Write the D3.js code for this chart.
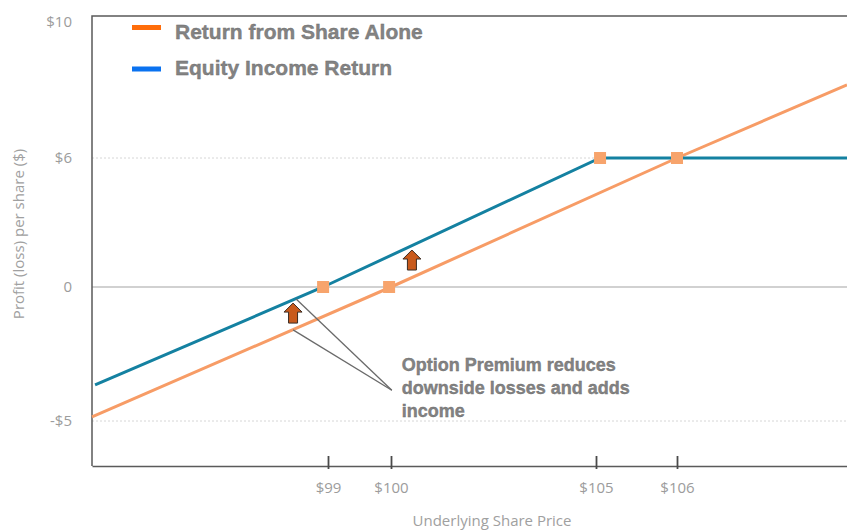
<!DOCTYPE html>
<html lang="en">
<head>
<meta charset="utf-8">
<title>Equity Income Return vs Share Alone</title>
<script src="https://d3js.org/d3.v7.min.js"></script>
<style>
  body { margin: 0; background: #fff; }
  .tick text { font-family: "Open Sans", sans-serif; font-size: 15px; fill: #9c9c9c; }
  .bold-text { font-family: "Liberation Sans", Arial, sans-serif; font-weight: bold; fill: #838383; stroke: #6c6c6c; stroke-width: 0.35; }
</style>
</head>
<body>
<script>
// ---- data ----
var priceTicks = [99, 100, 105, 106];
var profitTicks = [-5, 0, 6, 10];
var shareAlone = [[95.15, -4.85], [100, 0], [106, 6], [108.15, 8.15]];
var equityIncome = [[95.2, -3.65], [98.92, 0], [105.05, 6], [108.15, 6]];
var markers = [[98.92, 0], [99.97, 0], [105.05, 6], [106, 6]];
var arrows = [[98.43, -0.6], [100.51, 1.72]];
var pointers = [[98.48, -0.45], [98.43, -1.6]];
var noteAnchor = [100.02, -3.85];
var noteLines = ["Option Premium reduces", "downside losses and adds", "income"];
var legendItems = ["Return from Share Alone", "Equity Income Return"];
var legendColors = ["#ff6d0a", "#0a72f0"];

var width = 847, height = 530;
var plotLeft = 92, plotRight = 847, plotTop = 16, plotBottom = 466;

var svg = d3.select("body").append("svg")
  .attr("width", width)
  .attr("height", height);

// the illustration is not drawn to a linear scale, so use piecewise scales
var x = d3.scaleLinear()
  .domain([95.15, 99, 100, 105, 106, 108.15])
  .range([92, 328, 391, 596, 677, 847]);
var y = d3.scaleLinear()
  .domain([-5, 0, 6, 10])
  .range([421, 287, 158, 22]);

// dotted grid lines
svg.selectAll(".grid")
  .data([-5, 6])
  .enter().append("line")
  .attr("x1", plotLeft).attr("x2", plotRight)
  .attr("y1", d => y(d)).attr("y2", d => y(d))
  .attr("stroke", "#d6d6d6")
  .attr("stroke-width", 1)
  .attr("stroke-dasharray", "2,2");

// zero line
svg.append("line")
  .attr("x1", plotLeft).attr("x2", plotRight)
  .attr("y1", y(0)).attr("y2", y(0))
  .attr("stroke", "#c2c2c2")
  .attr("stroke-width", 1.5);

// frame (top and left)
svg.append("path")
  .attr("d", "M" + plotRight + "," + plotTop + "H" + plotLeft + "V" + plotBottom)
  .attr("fill", "none")
  .attr("stroke", "#5a5a5a")
  .attr("stroke-width", 1.5);

// y axis
var yAxis = svg.append("g")
  .attr("transform", "translate(" + plotLeft + ",0)")
  .call(d3.axisLeft(y).tickValues(profitTicks).tickSize(0).tickPadding(20)
    .tickFormat(d => d === 0 ? "0" : (d < 0 ? "-$" + Math.abs(d) : "$" + d)));
yAxis.select(".domain").remove();

// x axis
var xAxis = svg.append("g")
  .attr("transform", "translate(0," + plotBottom + ")")
  .call(d3.axisBottom(x).tickValues(priceTicks).tickSize(-10).tickSizeOuter(0).tickPadding(16)
    .tickFormat(d => "$" + d));
xAxis.select(".domain").attr("stroke", "#5a5a5a").attr("stroke-width", 1.5);
xAxis.selectAll(".tick line").attr("y1", 3).attr("stroke", "#4a4a4a").attr("stroke-width", 1.8);

// axis titles
svg.append("text")
  .attr("transform", "translate(24,234) rotate(-90)")
  .attr("text-anchor", "middle")
  .style("font-family", "Open Sans, sans-serif")
  .style("font-size", "15px")
  .style("fill", "#a0a0a0")
  .text("Profit (loss) per share ($)");

svg.append("text")
  .attr("x", 492).attr("y", 526)
  .attr("text-anchor", "middle")
  .style("font-family", "Open Sans, sans-serif")
  .style("font-size", "15px")
  .style("fill", "#a0a0a0")
  .text("Underlying Share Price");

// lines
var line = d3.line().x(d => x(d[0])).y(d => y(d[1]));

svg.append("path")
  .datum(shareAlone)
  .attr("d", line)
  .attr("fill", "none")
  .attr("stroke", "#f79c66")
  .attr("stroke-width", 3);

svg.append("path")
  .datum(equityIncome)
  .attr("d", line)
  .attr("fill", "none")
  .attr("stroke", "#1481a1")
  .attr("stroke-width", 3);

// markers
svg.selectAll(".marker")
  .data(markers)
  .enter().append("rect")
  .attr("x", d => x(d[0]) - 6)
  .attr("y", d => y(d[1]) - 6)
  .attr("width", 12)
  .attr("height", 12)
  .attr("fill", "#f7a46c");

// pointer lines to the note
svg.selectAll(".pointer")
  .data(pointers)
  .enter().append("line")
  .attr("x1", d => x(d[0])).attr("y1", d => y(d[1]))
  .attr("x2", x(noteAnchor[0])).attr("y2", y(noteAnchor[1]))
  .attr("stroke", "#6a6a6a")
  .attr("stroke-width", 1.3);

// up arrows
svg.selectAll(".arrow")
  .data(arrows)
  .enter().append("path")
  .attr("transform", d => "translate(" + x(d[0]) + "," + y(d[1]) + ")")
  .attr("d", "M0,0L9,9L4.5,9L4.5,20L-4.5,20L-4.5,9L-9,9Z")
  .attr("fill", "#c95a1c")
  .attr("stroke", "#3b2b22")
  .attr("stroke-width", 1);

// note text
svg.append("text")
  .attr("class", "bold-text")
  .style("font-size", "18px")
  .selectAll("tspan")
  .data(noteLines)
  .enter().append("tspan")
  .attr("x", x(noteAnchor[0]) + 10)
  .attr("y", (d, i) => y(noteAnchor[1]) - 19 + i * 23)
  .text(d => d);

// legend
var legendBarY = [27.5, 69];
var legendTextY = [39, 75];
var legend = svg.selectAll(".legend")
  .data(legendItems)
  .enter().append("g");
legend.append("rect")
  .attr("x", 132).attr("y", (d, i) => legendBarY[i] - 2.5)
  .attr("width", 29).attr("height", 5)
  .attr("fill", (d, i) => legendColors[i]);
legend.append("text")
  .attr("class", "bold-text")
  .attr("x", 175).attr("y", (d, i) => legendTextY[i])
  .style("font-size", "21px")
  .text(d => d);
</script>
</body>
</html>
